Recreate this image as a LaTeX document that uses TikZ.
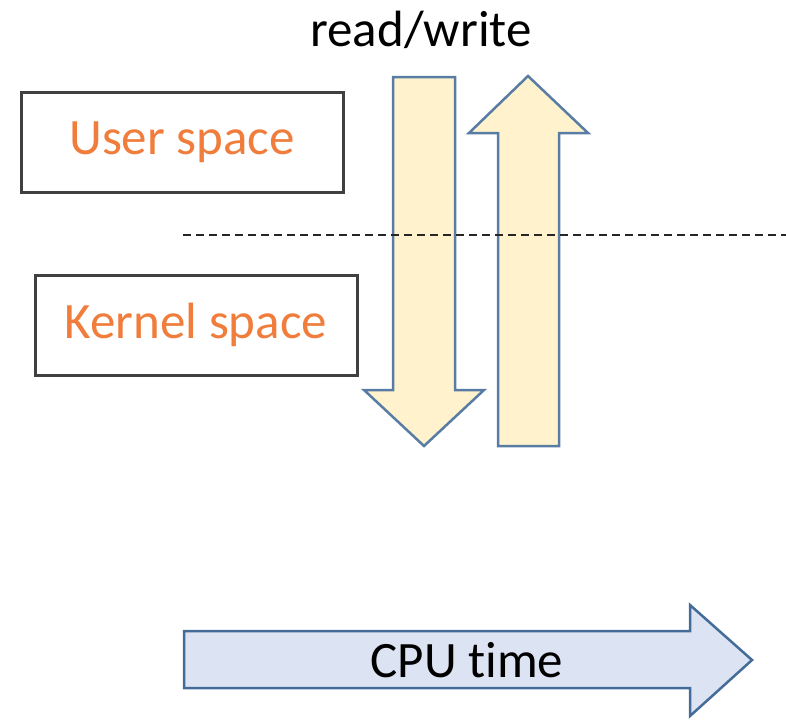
\documentclass[tikz,border=0pt]{standalone}
\usepackage{fontspec}
\setmainfont{Carlito}[Ligatures=NoCommon]
\usetikzlibrary{positioning}
\definecolor{arrowFill}{RGB}{255,242,204}
\definecolor{arrowLine}{RGB}{88,124,164}
\definecolor{timeFill}{RGB}{220,227,242}
\definecolor{timeLine}{RGB}{68,108,152}
\definecolor{spaceText}{RGB}{240,125,60}

\begin{document}
\begin{tikzpicture}[
    x=1pt, y=-1pt,
    spacebox/.style={rectangle, draw=black!75, line width=3pt, fill=white,
                     minimum width=322pt, minimum height=100pt,
                     font=\fontsize{51}{60}\selectfont, text=spaceText},
    label/.style={font=\fontsize{51}{60}\selectfont, text=black, inner sep=0pt},
    bigarrow/.style={draw=arrowLine, fill=arrowFill, line width=2.5pt, line join=miter},
    timearrow/.style={draw=timeLine, fill=timeFill, line width=2.5pt, line join=miter},
    border/.style={draw=black!85, line width=2.5pt, dash pattern=on 8pt off 5pt},
  ]
    \useasboundingbox (0,0) rectangle (786,721);

    % Title
    \node[label] (RW) at (421,30) {read/write};

    % Two address spaces
    \node[spacebox] (USER) at (182,142) {User space};
    \node[spacebox] (KERNEL) at (196,325) {Kernel space};

    % Down and up arrows (system call in / return)
    \draw[bigarrow] (393,77) -- (455,77) -- (455,390) -- (484,390) -- (424,446)
      -- (364,390) -- (393,390) -- cycle;
    \draw[bigarrow] (528,76) -- (588,133) -- (559,133) -- (559,446) -- (498,446)
      -- (498,133) -- (469,133) -- cycle;

    % Boundary between user and kernel
    \coordinate (B1) at (183,235);
    \coordinate (B2) at (786,235);
    \draw[border] (B1) -- (B2);

    % Time axis
    \draw[timearrow] (184,631) -- (690,631) -- (690,605) -- (752,660) -- (690,716)
      -- (690,688) -- (184,688) -- cycle;
    \node[label] (CPU) at (467,660) {CPU time};
  \end{tikzpicture}
\end{document}
